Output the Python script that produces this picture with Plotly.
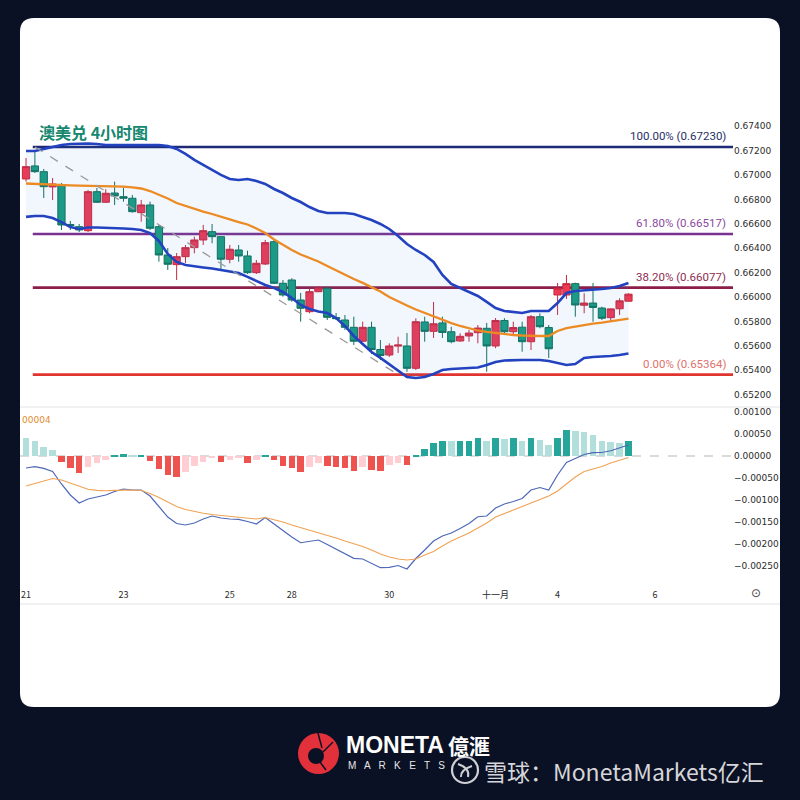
import plotly.graph_objects as go

# ---------------- data (AUD/USD 4H) ----------------
idx = list(range(69))
open_ = [0.66968, 0.67075, 0.67028, 0.66903, 0.66919, 0.66595, 0.66577, 0.66544, 0.66864, 0.66777,
         0.66853, 0.66823, 0.66810, 0.66692, 0.66755, 0.66577, 0.66345, 0.66266, 0.66331, 0.66405,
         0.66468, 0.66536, 0.66495, 0.66310, 0.66386, 0.66337, 0.66200, 0.66271, 0.66454, 0.66113,
         0.66140, 0.65976, 0.65880, 0.66044, 0.66072, 0.65832, 0.65812, 0.65752, 0.65638, 0.65752,
         0.65570, 0.65525, 0.65598, 0.65599, 0.65416, 0.65796, 0.65719, 0.65788, 0.65716, 0.65640,
         0.65681, 0.65708, 0.65744, 0.65599, 0.65808, 0.65716, 0.65753, 0.65634, 0.65839, 0.65750,
         0.66017, 0.66017, 0.66110, 0.65933, 0.65951, 0.65910, 0.65831, 0.65904, 0.65966]
high = [0.67140, 0.67192, 0.67050, 0.66976, 0.66935, 0.66624, 0.66599, 0.66878, 0.66894, 0.66884,
        0.66946, 0.66896, 0.66837, 0.66796, 0.66782, 0.66591, 0.66402, 0.66361, 0.66427, 0.66495,
        0.66591, 0.66599, 0.66500, 0.66427, 0.66427, 0.66380, 0.66304, 0.66468, 0.66474, 0.66140,
        0.66154, 0.66034, 0.66072, 0.66091, 0.66085, 0.65869, 0.65853, 0.65839, 0.65798, 0.65798,
        0.65648, 0.65621, 0.65675, 0.65705, 0.65826, 0.65839, 0.65960, 0.65839, 0.65757, 0.65703,
        0.65730, 0.65771, 0.65788, 0.65828, 0.65826, 0.65798, 0.65798, 0.65853, 0.65867, 0.65771,
        0.66116, 0.66181, 0.66118, 0.66031, 0.66116, 0.65921, 0.65908, 0.65990, 0.66031]
low = [0.66946, 0.67017, 0.66812, 0.66796, 0.66550, 0.66550, 0.66533, 0.66533, 0.66771, 0.66771,
       0.66755, 0.66782, 0.66692, 0.66618, 0.66550, 0.66290, 0.66222, 0.66140, 0.66279, 0.66359,
       0.66427, 0.66441, 0.66222, 0.66277, 0.66290, 0.66189, 0.66189, 0.66263, 0.66107, 0.66003,
       0.65962, 0.65798, 0.65867, 0.66040, 0.65812, 0.65812, 0.65730, 0.65607, 0.65635, 0.65533,
       0.65484, 0.65509, 0.65542, 0.65388, 0.65402, 0.65634, 0.65665, 0.65665, 0.65621, 0.65634,
       0.65634, 0.65621, 0.65388, 0.65580, 0.65703, 0.65689, 0.65552, 0.65566, 0.65744, 0.65501,
       0.65853, 0.65984, 0.65839, 0.65867, 0.65798, 0.65812, 0.65798, 0.65853, 0.65962]
close = [0.67069, 0.67028, 0.66905, 0.66927, 0.66591, 0.66587, 0.66550, 0.66864, 0.66777, 0.66851,
         0.66829, 0.66810, 0.66700, 0.66755, 0.66564, 0.66345, 0.66269, 0.66331, 0.66405, 0.66468,
         0.66544, 0.66495, 0.66310, 0.66392, 0.66337, 0.66200, 0.66277, 0.66446, 0.66113, 0.66017,
         0.65976, 0.65908, 0.66044, 0.66074, 0.65834, 0.65823, 0.65752, 0.65638, 0.65752, 0.65570,
         0.65521, 0.65599, 0.65607, 0.65416, 0.65798, 0.65719, 0.65781, 0.65710, 0.65634, 0.65678,
         0.65705, 0.65746, 0.65599, 0.65808, 0.65716, 0.65750, 0.65634, 0.65839, 0.65757, 0.65576,
         0.66072, 0.66110, 0.65935, 0.65951, 0.65915, 0.65826, 0.65903, 0.65969, 0.66024]

bb_upper = [0.67197, 0.67197, 0.67214, 0.67230, 0.67246, 0.67255, 0.67259, 0.67259, 0.67255, 0.67246,
            0.67246, 0.67246, 0.67246, 0.67246, 0.67246, 0.67246, 0.67238, 0.67214, 0.67173, 0.67124,
            0.67083, 0.67042, 0.67001, 0.66968, 0.66960, 0.66968, 0.66952, 0.66927, 0.66886, 0.66853,
            0.66812, 0.66779, 0.66738, 0.66706, 0.66689, 0.66689, 0.66689, 0.66681, 0.66657, 0.66632,
            0.66599, 0.66558, 0.66501, 0.66435, 0.66386, 0.66345, 0.66288, 0.66181, 0.66107, 0.66074,
            0.66042, 0.66009, 0.65960, 0.65910, 0.65886, 0.65878, 0.65869, 0.65886, 0.65886, 0.65886,
            0.65951, 0.66033, 0.66050, 0.66054, 0.66058, 0.66066, 0.66074, 0.66091, 0.66116]
bb_mid = [0.66931, 0.66927, 0.66923, 0.66919, 0.66919, 0.66916, 0.66914, 0.66913, 0.66910, 0.66908,
          0.66906, 0.66905, 0.66900, 0.66890, 0.66869, 0.66841, 0.66808, 0.66771, 0.66746, 0.66722,
          0.66701, 0.66681, 0.66656, 0.66636, 0.66615, 0.66595, 0.66562, 0.66525, 0.66472, 0.66427,
          0.66386, 0.66349, 0.66320, 0.66292, 0.66255, 0.66218, 0.66181, 0.66148, 0.66116, 0.66083,
          0.66046, 0.66001, 0.65964, 0.65931, 0.65898, 0.65869, 0.65841, 0.65812, 0.65787, 0.65763,
          0.65742, 0.65726, 0.65714, 0.65705, 0.65697, 0.65689, 0.65685, 0.65681, 0.65681, 0.65681,
          0.65722, 0.65746, 0.65759, 0.65771, 0.65783, 0.65791, 0.65800, 0.65812, 0.65824]
bb_lower = [0.66657, 0.66665, 0.66665, 0.66648, 0.66615, 0.66574, 0.66558, 0.66570, 0.66570, 0.66569,
            0.66566, 0.66562, 0.66558, 0.66550, 0.66525, 0.66460, 0.66353, 0.66288, 0.66263, 0.66251,
            0.66243, 0.66234, 0.66222, 0.66214, 0.66197, 0.66165, 0.66132, 0.66099, 0.66074, 0.66042,
            0.65992, 0.65935, 0.65902, 0.65882, 0.65869, 0.65828, 0.65763, 0.65681, 0.65615, 0.65550,
            0.65501, 0.65451, 0.65402, 0.65345, 0.65337, 0.65345, 0.65369, 0.65402, 0.65410, 0.65414,
            0.65419, 0.65423, 0.65443, 0.65468, 0.65480, 0.65484, 0.65484, 0.65484, 0.65484, 0.65476,
            0.65460, 0.65443, 0.65451, 0.65501, 0.65509, 0.65511, 0.65517, 0.65525, 0.65537]

macd_line = [-0.000273, -0.000243, -0.000280, -0.000352, -0.000636, -0.000886, -0.001068, -0.000977, -0.000932, -0.000886,
             -0.000807, -0.000750, -0.000773, -0.000773, -0.000909, -0.001159, -0.001387, -0.001534, -0.001568, -0.001523,
             -0.001432, -0.001364, -0.001409, -0.001432, -0.001439, -0.001489, -0.001546, -0.001398, -0.001546, -0.001705,
             -0.001841, -0.001971, -0.001932, -0.001909, -0.002012, -0.002114, -0.002228, -0.002325, -0.002341, -0.002432,
             -0.002539, -0.002530, -0.002489, -0.002568, -0.002330, -0.002137, -0.001932, -0.001818, -0.001750, -0.001648,
             -0.001534, -0.001380, -0.001364, -0.001182, -0.001091, -0.001034, -0.000966, -0.000773, -0.000716, -0.000773,
             -0.000432, -0.000148, -0.000057, 0.000034, 0.000075, 0.000080, 0.000120, 0.000193, 0.000250]
signal_line = [-0.000682, -0.000625, -0.000557, -0.000511, -0.000546, -0.000621, -0.000693, -0.000757, -0.000780, -0.000789,
               -0.000780, -0.000773, -0.000773, -0.000784, -0.000852, -0.000943, -0.001046, -0.001148, -0.001216, -0.001262,
               -0.001302, -0.001330, -0.001352, -0.001371, -0.001398, -0.001421, -0.001432, -0.001398, -0.001443, -0.001500,
               -0.001568, -0.001625, -0.001682, -0.001739, -0.001807, -0.001864, -0.001932, -0.001989, -0.002057, -0.002137,
               -0.002228, -0.002296, -0.002341, -0.002364, -0.002341, -0.002250, -0.002171, -0.002046, -0.001932, -0.001841,
               -0.001750, -0.001637, -0.001523, -0.001387, -0.001307, -0.001216, -0.001137, -0.001057, -0.000977, -0.000909,
               -0.000796, -0.000636, -0.000477, -0.000352, -0.000295, -0.000239, -0.000159, -0.000102, -0.000034]
macd_hist = [0.00040, 0.00035, 0.00021, 0.00014, -0.00013, -0.00028, -0.00039, -0.00024, -0.00017, -0.00009,
             0.00001, 0.00004, 0.00001, 0.00002, -0.00011, -0.00030, -0.00043, -0.00047, -0.00036, -0.00023,
             -0.00013, -0.00004, -0.00013, -0.00010, -0.00005, -0.00017, -0.00010, 0.00003, -0.00009, -0.00022,
             -0.00028, -0.00036, -0.00025, -0.00017, -0.00023, -0.00024, -0.00028, -0.00034, -0.00024, -0.00032,
             -0.00033, -0.00020, -0.00017, -0.00020, 0.00002, 0.00015, 0.00029, 0.00034, 0.00033, 0.00034,
             0.00035, 0.00040, 0.00033, 0.00040, 0.00039, 0.00040, 0.00033, 0.00040, 0.00036, 0.00025,
             0.00042, 0.00059, 0.00057, 0.00054, 0.00048, 0.00035, 0.00031, 0.00029, 0.00033]

fib_labels = ["100.00%", "61.80%", "38.20%", "0.00%"]
fib_levels = [0.67230, 0.66517, 0.66077, 0.65364]
fib_anchor_x = [1, 42]
fib_anchor_y = [0.67230, 0.65364]

price_ticks = [0.652, 0.654, 0.656, 0.658, 0.660, 0.662, 0.664, 0.666, 0.668, 0.670, 0.672, 0.674]
macd_ticks = [-0.0025, -0.002, -0.0015, -0.001, -0.0005, 0.0, 0.0005, 0.001]
date_tick_pos = [0, 11, 23, 30, 41, 53, 60, 71]
date_tick_text = ["21", "23", "25", "28", "30", "十一月", "4", "6"]

title_text = "澳美兑 4小时图"

# ---------------- styling ----------------
W = 800
def px(x):
    return x / W
def py(y):
    return 1 - y / W

fib_line_colors = ["#1c2a78", "#7b3391", "#8c1c48", "#e0342e"]
fib_text_colors = ["#1f2f66", "#8a4aa0", "#8e2c52", "#e0736e"]

hist_colors = []
for i, h in enumerate(macd_hist):
    prev = macd_hist[i - 1] if i > 0 else None
    if h >= 0:
        hist_colors.append("#26a69a" if (prev is not None and h > prev) else "#b2dfdb")
    else:
        hist_colors.append("#ef5350" if (prev is not None and h < prev) else "#ffcdd2")

X_RANGE = [-0.68, 79.8]

fig = go.Figure()

# Bollinger bands
fig.add_trace(go.Scatter(x=idx, y=bb_upper, mode="lines", line=dict(color="#2342c0", width=2.6),
                         hoverinfo="skip", xaxis="x", yaxis="y"))
fig.add_trace(go.Scatter(x=idx, y=bb_lower, mode="lines", line=dict(color="#2342c0", width=2.6),
                         fill="tonexty", fillcolor="rgba(60,140,220,0.07)", hoverinfo="skip",
                         xaxis="x", yaxis="y"))
fig.add_trace(go.Scatter(x=idx, y=bb_mid, mode="lines", line=dict(color="#ec8a24", width=2.3),
                         hoverinfo="skip", xaxis="x", yaxis="y"))
# fib trend line
fig.add_trace(go.Scatter(x=fib_anchor_x, y=fib_anchor_y, mode="lines",
                         line=dict(color="#9a9a9a", width=1.3, dash="dash"),
                         hoverinfo="skip", xaxis="x", yaxis="y"))
# candles (red = up, green = down)
fig.add_trace(go.Candlestick(x=idx, open=open_, high=high, low=low, close=close,
                             increasing=dict(fillcolor="#ec3a54", line=dict(color="#c8283f", width=1)),
                             decreasing=dict(fillcolor="#1a9a80", line=dict(color="#10705d", width=1)),
                             whiskerwidth=0, xaxis="x", yaxis="y"))

# MACD
fig.add_trace(go.Bar(x=idx, y=macd_hist, marker=dict(color=hist_colors, line=dict(width=0)),
                     width=0.74, xaxis="x2", yaxis="y2", hoverinfo="skip"))
fig.add_trace(go.Scatter(x=idx, y=macd_line, mode="lines", line=dict(color="#4d68b8", width=1.2),
                         xaxis="x2", yaxis="y2", hoverinfo="skip"))
fig.add_trace(go.Scatter(x=idx, y=signal_line, mode="lines", line=dict(color="#f0a253", width=1.1),
                         xaxis="x2", yaxis="y2", hoverinfo="skip"))

# ---------------- shapes ----------------
shapes = []
x0c, y0c, x1c, y1c, r = 20, 18, 780, 707, 14
def P(x, y):
    return f"{px(x):.5f},{py(y):.5f}"
card_path = (f"M {P(x0c + r, y0c)} L {P(x1c - r, y0c)} Q {P(x1c, y0c)} {P(x1c, y0c + r)} "
             f"L {P(x1c, y1c - r)} Q {P(x1c, y1c)} {P(x1c - r, y1c)} "
             f"L {P(x0c + r, y1c)} Q {P(x0c, y1c)} {P(x0c, y1c - r)} "
             f"L {P(x0c, y0c + r)} Q {P(x0c, y0c)} {P(x0c + r, y0c)} Z")
shapes.append(dict(type="path", path=card_path, xref="paper", yref="paper",
                   fillcolor="white", line=dict(width=0), layer="below"))
for yy in (407, 604):
    shapes.append(dict(type="line", xref="paper", yref="paper", x0=px(20), x1=px(780),
                       y0=py(yy), y1=py(yy), line=dict(color="#e4e4e4", width=1), layer="below"))
shapes.append(dict(type="line", xref="paper", yref="y2", x0=px(20), x1=px(733), y0=0, y1=0,
                   line=dict(color="#b5b5b5", width=1, dash="dash"), layer="below"))
for lvl, col in zip(fib_levels, fib_line_colors):
    shapes.append(dict(type="line", xref="x", yref="y", x0=0.76, x1=X_RANGE[1], y0=lvl, y1=lvl,
                       line=dict(color=col, width=2.6), layer="below"))
# Moneta logo
shapes.append(dict(type="circle", xref="paper", yref="paper", x0=px(298), x1=px(339),
                   y0=py(774), y1=py(733), fillcolor="#e3313c", line=dict(width=0)))
shapes.append(dict(type="circle", xref="paper", yref="paper", x0=px(308), x1=px(324),
                   y0=py(764), y1=py(748), fillcolor="#0b1124", line=dict(width=0)))
for (ax, ay, bx, by) in [(318, 733, 322, 748), (333, 742, 323, 752), (326, 770, 320, 762)]:
    shapes.append(dict(type="line", xref="paper", yref="paper", x0=px(ax), y0=py(ay), x1=px(bx), y1=py(by),
                       line=dict(color="#0b1124", width=1.5)))
# Xueqiu icon
shapes.append(dict(type="circle", xref="paper", yref="paper", x0=px(452), x1=px(478),
                   y0=py(783), y1=py(757), fillcolor="rgba(0,0,0,0)", line=dict(color="#cfcfd4", width=2.2)))
shapes.append(dict(type="path", xref="paper", yref="paper",
                   path=f"M {P(458, 764)} Q {P(470, 768)} {P(468, 777)} M {P(472, 766)} Q {P(460, 770)} {P(461, 777)}",
                   line=dict(color="#cfcfd4", width=2)))

# ---------------- annotations ----------------
ann = []
ann.append(dict(x=px(37), y=py(132), xref="paper", yref="paper", xanchor="left", yanchor="middle",
                text=f"<b>{title_text}</b>", showarrow=False,
                font=dict(family="Noto Sans CJK SC", size=16, color="#16876f")))
for lab, lvl, col in zip(fib_labels, fib_levels, fib_text_colors):
    ann.append(dict(x=px(728), y=lvl, xref="paper", yref="y", xanchor="right", yanchor="bottom",
                    yshift=2, text=f"{lab} ({lvl:.5f})", showarrow=False,
                    font=dict(family="Roboto", size=11.5, color=col)))
ann.append(dict(x=px(20), y=py(420), xref="paper", yref="paper", xanchor="left", yanchor="middle",
                text="00004", showarrow=False, font=dict(family="DejaVu Sans", size=9, color="#e58a2b")))
ann.append(dict(x=px(756), y=py(593), xref="paper", yref="paper", xanchor="center", yanchor="middle",
                text="⊙", showarrow=False, font=dict(family="DejaVu Sans", size=12, color="#444")))
ann.append(dict(x=px(344), y=py(745), xref="paper", yref="paper", xanchor="left", yanchor="middle",
                text="<b>MONETA</b>", showarrow=False,
                font=dict(family="Liberation Sans", size=23, color="white")))
ann.append(dict(x=px(446), y=py(745), xref="paper", yref="paper", xanchor="left", yanchor="middle",
                text="<b>億滙</b>", showarrow=False,
                font=dict(family="Noto Sans CJK TC", size=21, color="white")))
ann.append(dict(x=px(346), y=py(765), xref="paper", yref="paper", xanchor="left", yanchor="middle",
                text="M   A   R   K   E   T   S", showarrow=False,
                font=dict(family="Liberation Sans", size=10, color="#e6e6e6")))
ann.append(dict(x=px(482), y=py(771), xref="paper", yref="paper", xanchor="left", yanchor="middle",
                text="雪球：MonetaMarkets亿汇", showarrow=False,
                font=dict(family="Noto Sans CJK SC", size=23, color="#d6d6da")))

axis_font = dict(family="DejaVu Sans", size=9, color="#2b2b2b")

fig.update_layout(
    width=800, height=800, margin=dict(l=0, r=0, t=0, b=0),
    paper_bgcolor="#0b1124", plot_bgcolor="rgba(0,0,0,0)", showlegend=False,
    shapes=shapes, annotations=ann, bargap=0, boxgap=0.18, boxgroupgap=0,
    xaxis=dict(domain=[px(20), px(733)], range=X_RANGE, anchor="y", showticklabels=False,
               showgrid=False, zeroline=False, showline=False, rangeslider=dict(visible=False)),
    yaxis=dict(domain=[py(406), py(112)], range=[0.65107, 0.67517], anchor="x", side="right",
               tickvals=price_ticks, tickformat=".5f", showgrid=False, zeroline=False,
               tickfont=axis_font, ticks=""),
    xaxis2=dict(domain=[px(20), px(733)], range=X_RANGE, anchor="y2", matches="x",
                tickvals=date_tick_pos, ticktext=date_tick_text, showgrid=False, zeroline=False,
                ticks="outside", ticklen=6, tickcolor="rgba(0,0,0,0)",
                tickfont=dict(family="Noto Sans CJK SC", size=9, color="#2b2b2b")),
    yaxis2=dict(domain=[py(580), py(408)], range=[-0.002818, 0.001091], anchor="x2", side="right",
                tickvals=macd_ticks, tickformat=".5f", showgrid=False, zeroline=False,
                tickfont=axis_font, ticks=""),
)

fig.write_html("out.html")
